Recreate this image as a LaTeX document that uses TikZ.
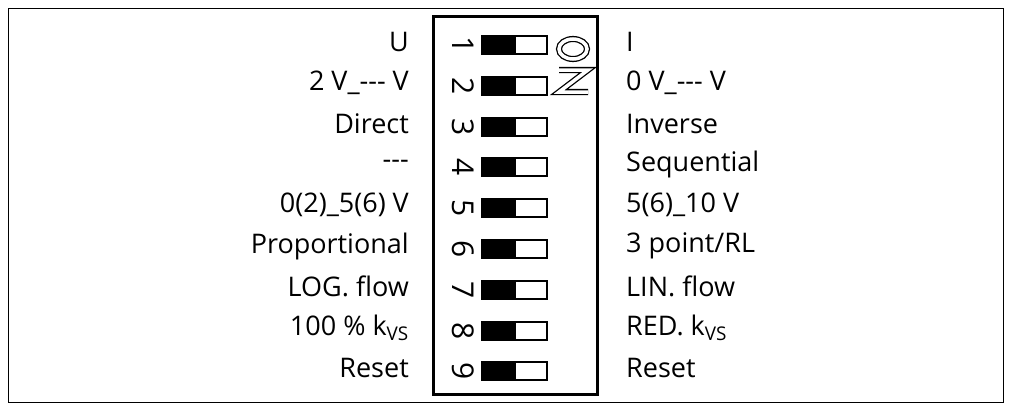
\documentclass[tikz,border=0pt]{standalone}
\usepackage{fontspec}
\setmainfont{Open Sans}
\begin{document}
\begin{tikzpicture}[x=1pt,y=-1pt,
  lab/.style={font=\fontsize{27}{30}\selectfont, inner sep=0pt},
  num/.style={font=\fontsize{30}{32}\selectfont, rotate=-90, inner sep=0pt},
  outl/.style={double=white, double distance=3.5pt, line width=1.3pt}]
\useasboundingbox (0,0) rectangle (1010,410);
\draw[line width=1pt] (8,8) rectangle (1003,402);
\draw[line width=3pt] (433,16) rectangle (597,394);
\draw[outl] (573,49) ellipse (14pt and 10pt);
\draw[outl, line join=miter] (559,70) -- (588,70) -- (559,92) -- (588,92);
\foreach \i/\l/\r in {1/U/I, 2/{2 V\_{-}{-}{-} V}/{0 V\_{-}{-}{-} V}, 3/Direct/Inverse, 4/{{-}{-}{-}}/Sequential,
  5/0(2)\_5(6) V/5(6)\_10 V, 6/Proportional/{3 point/RL}, 7/LOG. flow/LIN. flow,
  8/100 \% k\textsubscript{VS}/RED. k\textsubscript{VS}, 9/Reset/Reset}{
  \pgfmathsetmacro\yy{45+(\i-1)*40.8}
  \node[num] (n\i) at (463,\yy) {\i};
  \draw[line width=2pt] (482,\yy-9) rectangle (547,\yy+9);
  \fill (482,\yy-9) rectangle (516,\yy+9);
  \node[lab, anchor=east] (l\i) at (409,\yy-3) {\l};
  \node[lab, anchor=west] (r\i) at (626,\yy-3) {\r};
}
\end{tikzpicture}
\end{document}
